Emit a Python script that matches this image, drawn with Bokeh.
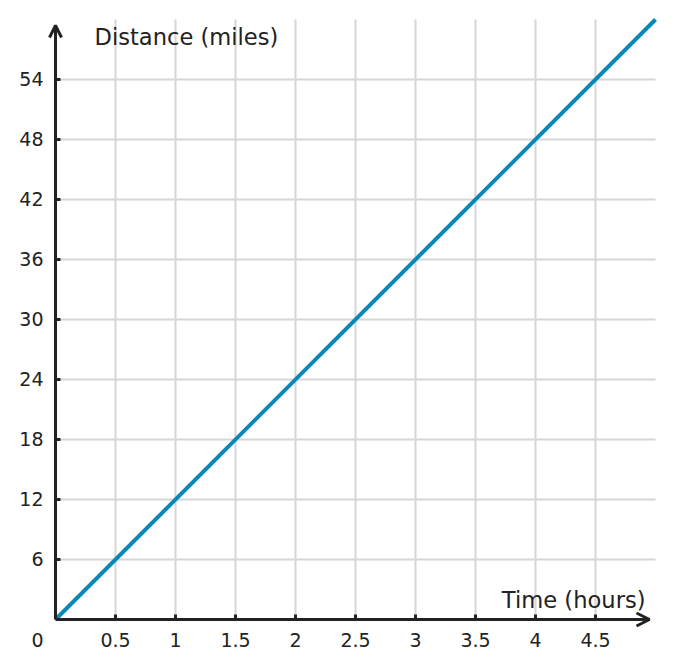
from bokeh.plotting import figure
from bokeh.models import Arrow, OpenHead, Range1d
from bokeh.embed import file_html
from bokeh.resources import INLINE

time_hours = [0, 5]
distance_miles = [0, 60]
x_ticks = [0.5, 1, 1.5, 2, 2.5, 3, 3.5, 4, 4.5]
x_labels = ["0.5", "1", "1.5", "2", "2.5", "3", "3.5", "4", "4.5"]
y_ticks = [6, 12, 18, 24, 30, 36, 42, 48, 54]
y_labels = ["6", "12", "18", "24", "30", "36", "42", "48", "54"]
origin_label = "0"
x_title = "Time (hours)"
y_title = "Distance (miles)"

FONT = "DejaVu Sans"
AXIS = "#222222"
W, H = 674, 668
LEFT, RIGHT, TOP, BOTTOM = 55, 19, 19, 49

x0, x1 = time_hours[0], time_hours[-1]
y0, y1 = distance_miles[0], distance_miles[-1]
xs = (x1 - x0) / (W - LEFT - RIGHT)   # data units per pixel
ys = (y1 - y0) / (H - TOP - BOTTOM)

p = figure(width=W, height=H, output_backend="svg", toolbar_location=None,
           x_range=Range1d(x0 - LEFT * xs, x1 + RIGHT * xs),
           y_range=Range1d(y0 - BOTTOM * ys, y1 + TOP * ys),
           x_axis_type=None, y_axis_type=None, min_border=0)
p.outline_line_color = None
p.background_fill_color = "white"

# grid
p.segment(x0=x_ticks, y0=[y0] * len(x_ticks), x1=x_ticks, y1=[y1] * len(x_ticks),
          line_color="#d6d6d6", line_width=2)
p.segment(x0=[x0] * len(y_ticks), y0=y_ticks, x1=[x1] * len(y_ticks), y1=y_ticks,
          line_color="#d6d6d6", line_width=2)

# data line
p.line(time_hours, distance_miles, line_color="#0a87ba", line_width=4)

# axes with arrows
p.add_layout(Arrow(end=OpenHead(size=13, line_width=3, line_color=AXIS),
                   x_start=x0, y_start=y0, x_end=x1 - 6 * xs, y_end=y0,
                   line_width=3, line_color=AXIS))
p.add_layout(Arrow(end=OpenHead(size=12, line_width=3, line_color=AXIS),
                   x_start=x0, y_start=y0, x_end=x0, y_end=y1 - 6 * ys,
                   line_width=3, line_color=AXIS))

# tick marks (inward)
p.segment(x0=x_ticks, y0=[y0] * len(x_ticks), x1=x_ticks,
          y1=[y0 + 5 * ys] * len(x_ticks), line_color=AXIS, line_width=3)
p.segment(x0=[x0] * len(y_ticks), y0=y_ticks, x1=[x0 + 5 * xs] * len(y_ticks),
          y1=y_ticks, line_color=AXIS, line_width=3)

# tick labels
p.text(x=x_ticks, y=[y0] * len(x_ticks), text=x_labels, text_font={"value": FONT},
       text_font_size="19px", text_color=AXIS, text_align="center",
       text_baseline="middle", y_offset=20)
p.text(x=[x0] * len(y_ticks), y=y_ticks, text=y_labels, text_font={"value": FONT},
       text_font_size="19px", text_color=AXIS, text_align="right",
       text_baseline="middle", x_offset=-12, y_offset=-1)
p.text(x=[x0], y=[y0], text=[origin_label], text_font={"value": FONT},
       text_font_size="19px", text_color=AXIS, text_align="right",
       text_baseline="middle", x_offset=-12, y_offset=20)

# axis titles
p.text(x=[x0], y=[y1], text=[y_title], text_font={"value": FONT},
       text_font_size="22.6px", text_color=AXIS, text_align="left",
       text_baseline="middle", x_offset=39, y_offset=17)
p.text(x=[x1], y=[y0], text=[x_title], text_font={"value": FONT},
       text_font_size="22.6px", text_color=AXIS, text_align="right",
       text_baseline="middle", x_offset=-10, y_offset=-20)

open("out.html", "w").write(file_html(p, INLINE))
